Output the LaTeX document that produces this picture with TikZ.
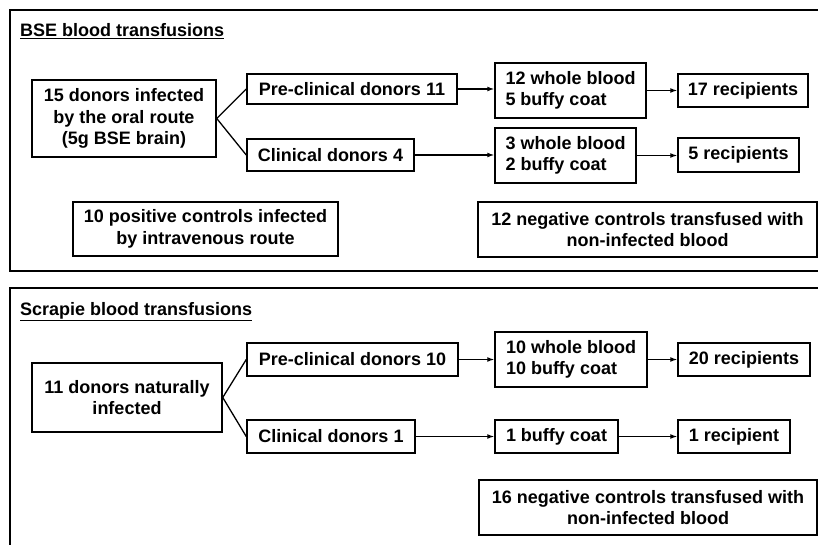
\documentclass[tikz,border=0pt]{standalone}
\usepackage{fontspec}
\setmainfont{Liberation Sans}
\usetikzlibrary{arrows.meta}
\begin{document}
\begin{tikzpicture}[x=1pt,y=-1pt,
    box/.style={draw,line width=1.5pt,inner sep=0pt,align=center,font=\bfseries\fontsize{18}{21.5}\selectfont},
    heading/.style={anchor=base west,inner sep=0pt,font=\bfseries\fontsize{18}{21.5}\selectfont},
    frame/.style={line width=1.6pt},
    arr/.style={-{Latex[length=7pt,width=5pt]},line width=1.3pt},
    branch/.style={line width=1.3pt}]
    \useasboundingbox (0,0) rectangle (818,545);

    \draw[frame] (10,10) rectangle (830,271);
    \node[heading] (bseTitle) at (20,37) {\underline{BSE blood transfusions}};

    \node[box,minimum width=184pt,minimum height=77pt] (bseDonors) at (124,118.5) {15 donors infected\\by the oral route\\(5g BSE brain)};
    \node[box,minimum width=210pt,minimum height=30pt] (bsePre) at (352,89) {Pre-clinical donors 11};
    \node[box,minimum width=167pt,minimum height=32pt] (bseClin) at (330.5,155) {Clinical donors 4};
    \node[box,align=left,minimum width=151pt,minimum height=55pt] (bsePreBlood) at (570.5,90.5) {12 whole blood\\5 buffy coat};
    \node[box,align=left,minimum width=141pt,minimum height=55pt] (bseClinBlood) at (565.5,155.5) {3 whole blood\\2 buffy coat};
    \node[box,minimum width=130pt,minimum height=33pt] (bsePreRec) at (743,90.5) {17 recipients};
    \node[box,minimum width=121pt,minimum height=34pt] (bseClinRec) at (738.5,155) {5 recipients};
    \node[box,minimum width=265pt,minimum height=54pt] (bsePos) at (205.5,229) {10 positive controls infected\\by intravenous route};
    \node[box,minimum width=339pt,minimum height=55pt] (bseNeg) at (647.5,229.5) {12 negative controls transfused with\\non-infected blood};

    \draw[branch] (bseDonors.east) -- (bsePre.west);
    \draw[branch] (bseDonors.east) -- (bseClin.west);
    \draw[arr] (bsePre) -- (bsePre -| bsePreBlood.west);
    \draw[arr] (bsePreBlood.east) -- (bsePreBlood.east -| bsePreRec.west);
    \draw[arr] (bseClin) -- (bseClin -| bseClinBlood.west);
    \draw[arr] (bseClinBlood.east) -- (bseClinBlood.east -| bseClinRec.west);

    \draw[frame] (10,288) rectangle (830,560);
    \node[heading] (scrTitle) at (20,315) {\underline{Scrapie blood transfusions}};

    \node[box,minimum width=190pt,minimum height=69pt] (scrDonors) at (127,397.5) {11 donors naturally\\infected};
    \node[box,minimum width=211pt,minimum height=33pt] (scrPre) at (352.5,359.5) {Pre-clinical donors 10};
    \node[box,minimum width=168pt,minimum height=33pt] (scrClin) at (331,436.5) {Clinical donors 1};
    \node[box,align=left,minimum width=152pt,minimum height=55pt] (scrPreBlood) at (571,359.5) {10 whole blood\\10 buffy coat};
    \node[box,minimum width=123pt,minimum height=33pt] (scrClinBlood) at (556.5,436.5) {1 buffy coat};
    \node[box,minimum width=132pt,minimum height=33pt] (scrPreRec) at (744,359.5) {20 recipients};
    \node[box,minimum width=112pt,minimum height=33pt] (scrClinRec) at (734,436.5) {1 recipient};
    \node[box,minimum width=338pt,minimum height=55pt] (scrNeg) at (648,507.5) {16 negative controls transfused with\\non-infected blood};

    \draw[branch] (scrDonors.east) -- (scrPre.west);
    \draw[branch] (scrDonors.east) -- (scrClin.west);
    \draw[arr] (scrPre) -- (scrPre -| scrPreBlood.west);
    \draw[arr] (scrPreBlood.east) -- (scrPreBlood.east -| scrPreRec.west);
    \draw[arr] (scrClin) -- (scrClinBlood);
    \draw[arr] (scrClinBlood) -- (scrClinRec);
\end{tikzpicture}
\end{document}
